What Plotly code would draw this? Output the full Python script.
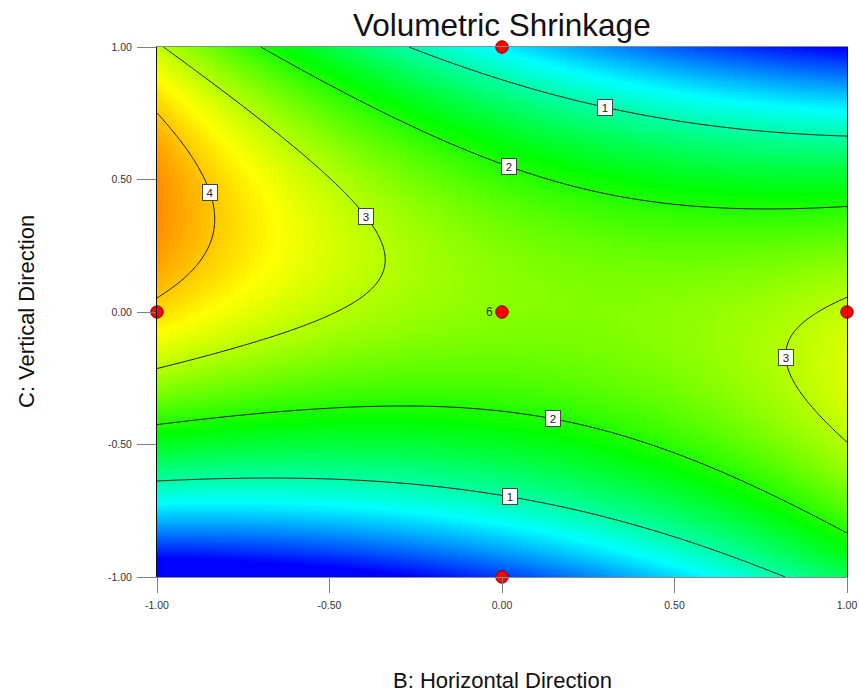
import numpy as np
import plotly.graph_objects as go

# Response-surface model in square-root units: sqrt(Volumetric Shrinkage) vs coded B, C
model_terms = ["1", "B", "C", "B*C", "B^2", "C^2"]
model_coefs = [1.632, -0.099, 0.192, -0.646, 0.2275, -1.042]

# Contour levels (original units)
levels = [1, 2, 3, 4]

# Design points shown on this slice (center point has replicates)
design_b = [0, -1, 0, 1, 0]
design_c = [1, 0, 0, 0, -1]
center_runs = 6

# Axis ticks
tick_values = [-1, -0.5, 0, 0.5, 1]
tick_labels = ["-1.00", "-0.50", "0.00", "0.50", "1.00"]


def sqrt_response(b, c):
    b = np.asarray(b, float)
    c = np.asarray(c, float)
    terms = np.stack([np.ones_like(b), b, c, b * c, b * b, c * c], -1)
    return terms @ np.asarray(model_coefs)


def response(b, c):
    return sqrt_response(b, c) ** 2


grid = np.linspace(-1, 1, 241)
GB, GC = np.meshgrid(grid, grid)
shade = sqrt_response(GB, GC)
surface = shade ** 2

# Rainbow gradient over the transformed response
shade_lo, shade_hi = 0.28, 2.42
colorscale = [[0.0, "rgb(0,0,255)"], [0.25, "rgb(0,255,255)"], [0.5, "rgb(0,255,0)"],
              [0.75, "rgb(255,255,0)"], [1.0, "rgb(255,0,0)"]]

# Approximate spots for the boxed contour labels; each is moved onto its line
label_spots = [(1, 0.299, 0.801), (2, 0.020, 0.580), (4, -0.840, 0.451), (3, -0.377, 0.361),
               (3, 0.827, -0.171), (2, 0.148, -0.375), (1, 0.022, -0.671)]


def snap(level, b0, c0):
    s = np.linspace(-0.12, 0.12, 481)
    best, bd = (b0, c0), 1e9
    for db, dc in [(0, 1), (1, 0)]:
        bb = np.clip(b0 + db * s, -1, 1)
        cv = np.clip(c0 + dc * s, -1, 1)
        v = response(bb, cv) - level
        idx = np.where(np.sign(v[:-1]) != np.sign(v[1:]))[0]
        for i in idx:
            t = v[i] / (v[i] - v[i + 1])
            sb = bb[i] + t * (bb[i + 1] - bb[i])
            sc = cv[i] + t * (cv[i + 1] - cv[i])
            d = abs(sb - b0) + abs(sc - c0)
            if d < bd:
                best, bd = (sb, sc), d
    return best


FONT = "Liberation Sans, Arial, sans-serif"

fig = go.Figure()
fig.add_trace(go.Heatmap(x=grid, y=grid, z=shade, colorscale=colorscale, zmin=shade_lo, zmax=shade_hi,
                         zsmooth="best", showscale=False, hoverinfo="skip"))
fig.add_trace(go.Contour(x=grid, y=grid, z=surface, autocontour=False,
                         contours=dict(start=min(levels), end=max(levels), size=1, coloring="none"),
                         line=dict(color="#1a1a1a", width=1), showscale=False, hoverinfo="skip"))
fig.add_trace(go.Scatter(x=design_b, y=design_c, mode="markers", cliponaxis=False,
                         marker=dict(symbol="circle", size=12.5, color="#ff0000",
                                     line=dict(color="#7a0000", width=1)), hoverinfo="skip"))

ann = []
for lv, b0, c0 in label_spots:
    sb, sc = snap(lv, b0, c0)
    ann.append(dict(x=sb, y=sc, xref="x", yref="y", text=str(lv), showarrow=False,
                    font=dict(family=FONT, size=11.5, color="#222"), bgcolor="white",
                    bordercolor="#444", borderwidth=1, borderpad=1, width=12, height=13))
ann.append(dict(x=0, y=0, xref="x", yref="y", text=str(center_runs), showarrow=False,
                xanchor="right", xshift=-7, font=dict(family=FONT, size=12, color="#333")))
ann.append(dict(x=0.5, y=1, xref="paper", yref="paper", text="Volumetric Shrinkage", showarrow=False,
                yanchor="middle", yshift=22, font=dict(family=FONT, size=31.5, color="#111")))
ann.append(dict(x=0.5, y=0, xref="paper", yref="paper", text="B: Horizontal Direction", showarrow=False,
                yanchor="middle", yshift=-103, font=dict(family=FONT, size=22, color="#111")))
ann.append(dict(x=0, y=0.5, xref="paper", yref="paper", text="C: Vertical Direction", showarrow=False,
                textangle=-90, xanchor="center", xshift=-131, font=dict(family=FONT, size=22, color="#111")))

axis_common = dict(range=[-1, 1], tickvals=tick_values, ticktext=tick_labels, ticks="outside",
                   tickcolor="#808080", tickwidth=1, showline=True, mirror=True, showgrid=False,
                   zeroline=False, automargin=False, ticklabelstandoff=3,
                   tickfont=dict(family=FONT, size=10.5, color="#333"))
fig.update_layout(
    template="none",
    width=859, height=693, margin=dict(l=157, r=12, t=47, b=116, pad=0),
    paper_bgcolor="white", plot_bgcolor="white", showlegend=False, annotations=ann,
    xaxis=dict(axis_common, ticklen=15, linecolor="#8c8c8c"),
    yaxis=dict(axis_common, ticklen=19, linecolor="#111"),
)
fig.write_html("out.html")
